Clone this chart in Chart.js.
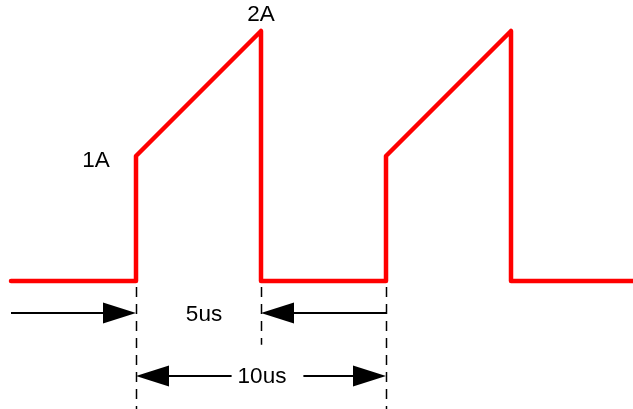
<!DOCTYPE html>
<html>
<head>
<meta charset="utf-8">
<script src="https://cdn.jsdelivr.net/npm/chart.js@4"></script>
<style>
  html, body { margin: 0; padding: 0; background: #fff; }
  #wrap { width: 633px; height: 409px; }
</style>
</head>
<body>
<div id="wrap"><canvas id="chart"></canvas></div>
<script>
// waveform (time in us, current in A)
const timeUs = [-5, 0, 0, 5, 5, 10, 10, 15, 15, 20]
const currentA = [0, 0, 1, 2, 0, 0, 1, 2, 0, 0]

// level labels
const levelLabels = ['1A', '2A']
const levelLabelTime = [-1.6, 5]
const levelLabelCurrent = [0.96, 2.13]

// dashed marker lines (time, lower end in A)
const markerTimes = [0, 5, 10]
const markerEnds = [-1.1, -0.51, -1.1]

// dimension arrows
const dimLabels = ['5us', '10us']
const dimLabelTime = [2.72, 5.04]
const dimRows = [-0.256, -0.76]

const FONT = '22.5px "Liberation Sans", Arial, sans-serif'

function arrowHead(ctx, x, y, dir) {
  // dir: 1 = pointing right, -1 = pointing left
  const len = 33, half = 10.5
  ctx.beginPath()
  ctx.moveTo(x, y)
  ctx.lineTo(x - dir * len, y - half)
  ctx.lineTo(x - dir * len, y + half)
  ctx.closePath()
  ctx.fill()
}

const annotations = {
  id: 'annotations',
  afterDatasetsDraw(chart) {
    const { ctx, scales: { x, y } } = chart
    ctx.save()

    // dashed markers
    ctx.strokeStyle = '#000'
    ctx.lineWidth = 1.5
    ctx.setLineDash([10, 7])
    const top = y.getPixelForValue(0) + 6
    markerTimes.forEach((t, i) => {
      const px = Math.round(x.getPixelForValue(t)) + 0.5
      ctx.beginPath()
      ctx.moveTo(px, top)
      ctx.lineTo(px, y.getPixelForValue(markerEnds[i]))
      ctx.stroke()
    })
    ctx.setLineDash([])

    ctx.fillStyle = '#000'
    ctx.lineWidth = 2
    ctx.font = FONT
    ctx.textBaseline = 'middle'
    ctx.textAlign = 'center'

    // 5us: outside arrows pointing in
    const r1 = y.getPixelForValue(dimRows[0])
    const x0 = x.getPixelForValue(-5), x1 = x.getPixelForValue(0)
    const x2 = x.getPixelForValue(5), x3 = x.getPixelForValue(10)
    ctx.beginPath()
    ctx.moveTo(x0, r1); ctx.lineTo(x1 - 20, r1)
    ctx.moveTo(x2 + 20, r1); ctx.lineTo(x3, r1)
    ctx.stroke()
    arrowHead(ctx, x1, r1, 1)
    arrowHead(ctx, x2, r1, -1)
    ctx.fillText(dimLabels[0], x.getPixelForValue(dimLabelTime[0]), r1 + 2)

    // 10us: inside arrows pointing out, text in the middle
    const r2 = y.getPixelForValue(dimRows[1])
    const mid = x.getPixelForValue(dimLabelTime[1])
    const tw = ctx.measureText(dimLabels[1]).width
    ctx.beginPath()
    ctx.moveTo(x1 + 20, r2); ctx.lineTo(mid - tw / 2 - 6, r2)
    ctx.moveTo(mid + tw / 2 + 17, r2); ctx.lineTo(x3 - 20, r2)
    ctx.stroke()
    arrowHead(ctx, x1, r2, -1)
    arrowHead(ctx, x3, r2, 1)
    ctx.fillText(dimLabels[1], mid, r2 + 1)

    // level labels
    levelLabels.forEach((txt, i) => {
      ctx.fillText(txt, x.getPixelForValue(levelLabelTime[i]), y.getPixelForValue(levelLabelCurrent[i]))
    })

    ctx.restore()
  }
}

new Chart(document.getElementById('chart'), {
  type: 'line',
  data: {
    datasets: [{
      data: timeUs.map((t, i) => ({ x: t, y: currentA[i] })),
      borderColor: '#ff0000',
      borderWidth: 4.5,
      borderJoinStyle: 'round',
      borderCapStyle: 'round',
      pointRadius: 0,
      tension: 0,
      fill: false
    }]
  },
  options: {
    responsive: true,
    maintainAspectRatio: false,
    animation: false,
    layout: { padding: 0 },
    plugins: { legend: { display: false }, tooltip: { enabled: false } },
    scales: {
      x: { type: 'linear', min: -5.44, max: 19.88, display: false },
      y: { type: 'linear', min: -1.024, max: 2.248, display: false }
    }
  },
  plugins: [annotations]
})
</script>
</body>
</html>
